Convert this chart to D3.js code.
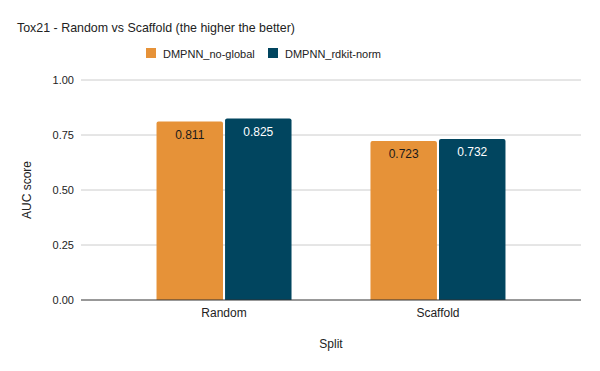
<!DOCTYPE html>
<html>
<head>
<meta charset="utf-8">
<script src="https://cdn.jsdelivr.net/npm/d3@7"></script>
<style>
  body { margin: 0; background: #fff; }
  text { font-family: "Liberation Sans", Arial, sans-serif; }
</style>
</head>
<body>
<div id="chart"></div>
<script>
// data
const splits = ["Random", "Scaffold"];
const models = ["DMPNN_no-global", "DMPNN_rdkit-norm"];
const noGlobal = [0.811, 0.723];
const rdkitNorm = [0.825, 0.732];
const yTicks = [0, 0.25, 0.5, 0.75, 1];

const width = 600, height = 371;
const plotLeft = 81, plotRight = 581, plotTop = 80, plotBottom = 300;

const colors = d3.scaleOrdinal().domain(models).range(["#e69238", "#01455f"]);
const labelColors = { "DMPNN_no-global": "#1a1a1a", "DMPNN_rdkit-norm": "#ffffff" };

const rows = splits.map((s, i) => ({
    split: s,
    values: [
        { model: models[0], value: noGlobal[i] },
        { model: models[1], value: rdkitNorm[i] }
    ]
}));

const svg = d3.select("#chart").append("svg")
    .attr("width", width)
    .attr("height", height);

const x0 = d3.scaleBand().domain(splits).range([plotLeft, plotRight])
    .paddingInner(0.369).paddingOuter(0.353);
const x1 = d3.scaleBand().domain(models).range([0, x0.bandwidth()]).paddingInner(0.03);
const y = d3.scaleLinear().domain([0, 1]).range([plotBottom, plotTop]);

// gridlines
svg.append("g").selectAll("line")
    .data(yTicks.slice(1))
    .join("line")
    .attr("x1", plotLeft).attr("x2", plotRight)
    .attr("y1", d => y(d)).attr("y2", d => y(d))
    .attr("stroke", "#cccccc").attr("stroke-width", 1);

// y tick labels
svg.append("g").selectAll("text")
    .data(yTicks)
    .join("text")
    .attr("x", plotLeft - 7)
    .attr("y", d => y(d) + 4)
    .attr("text-anchor", "end")
    .attr("font-size", 11)
    .attr("fill", "#222")
    .text(d => d3.format(".2f")(d));

// bars with rounded top corners
const barPath = (x, yTop, w, h, r) =>
    `M${x},${yTop + h}V${yTop + r}Q${x},${yTop} ${x + r},${yTop}H${x + w - r}Q${x + w},${yTop} ${x + w},${yTop + r}V${yTop + h}Z`;

const groups = svg.append("g").selectAll("g")
    .data(rows)
    .join("g")
    .attr("transform", d => `translate(${x0(d.split)},0)`);

groups.selectAll("path")
    .data(d => d.values)
    .join("path")
    .attr("d", d => barPath(x1(d.model), y(d.value), x1.bandwidth(), plotBottom - y(d.value), 2))
    .attr("fill", d => colors(d.model));

groups.selectAll("text")
    .data(d => d.values)
    .join("text")
    .attr("x", d => x1(d.model) + x1.bandwidth() / 2)
    .attr("y", d => y(d.value) + 17)
    .attr("text-anchor", "middle")
    .attr("font-family", "Roboto, sans-serif")
    .attr("font-size", 12)
    .attr("fill", d => labelColors[d.model])
    .text(d => d.value.toFixed(3));

// baseline
svg.append("line")
    .attr("x1", plotLeft).attr("x2", plotRight)
    .attr("y1", plotBottom).attr("y2", plotBottom)
    .attr("stroke", "#333").attr("stroke-width", 1);

// x tick labels
svg.append("g").selectAll("text")
    .data(splits)
    .join("text")
    .attr("x", d => x0(d) + x0.bandwidth() / 2)
    .attr("y", plotBottom + 17)
    .attr("text-anchor", "middle")
    .attr("font-size", 12)
    .attr("fill", "#222")
    .text(d => d);

// axis titles
svg.append("text")
    .attr("x", (plotLeft + plotRight) / 2)
    .attr("y", 348)
    .attr("text-anchor", "middle")
    .attr("font-size", 12)
    .attr("fill", "#222")
    .text("Split");

svg.append("text")
    .attr("transform", `translate(31,${(plotTop + plotBottom) / 2}) rotate(-90)`)
    .attr("text-anchor", "middle")
    .attr("font-size", 12)
    .attr("fill", "#222")
    .text("AUC score");

// title
svg.append("text")
    .attr("x", 17).attr("y", 32)
    .attr("font-size", 13.5)
    .attr("textLength", 278)
    .attr("lengthAdjust", "spacingAndGlyphs")
    .attr("fill", "#222")
    .text("Tox21 - Random vs Scaffold (the higher the better)");

// legend
const legendX = [146, 268];
const legend = svg.append("g").selectAll("g")
    .data(models)
    .join("g")
    .attr("transform", (d, i) => `translate(${legendX[i]},48)`);
legend.append("rect")
    .attr("width", 10).attr("height", 10)
    .attr("fill", d => colors(d));
legend.append("text")
    .attr("x", 17).attr("y", 9.5)
    .attr("font-size", 11)
    .attr("fill", "#222")
    .text(d => d);
</script>
</body>
</html>
